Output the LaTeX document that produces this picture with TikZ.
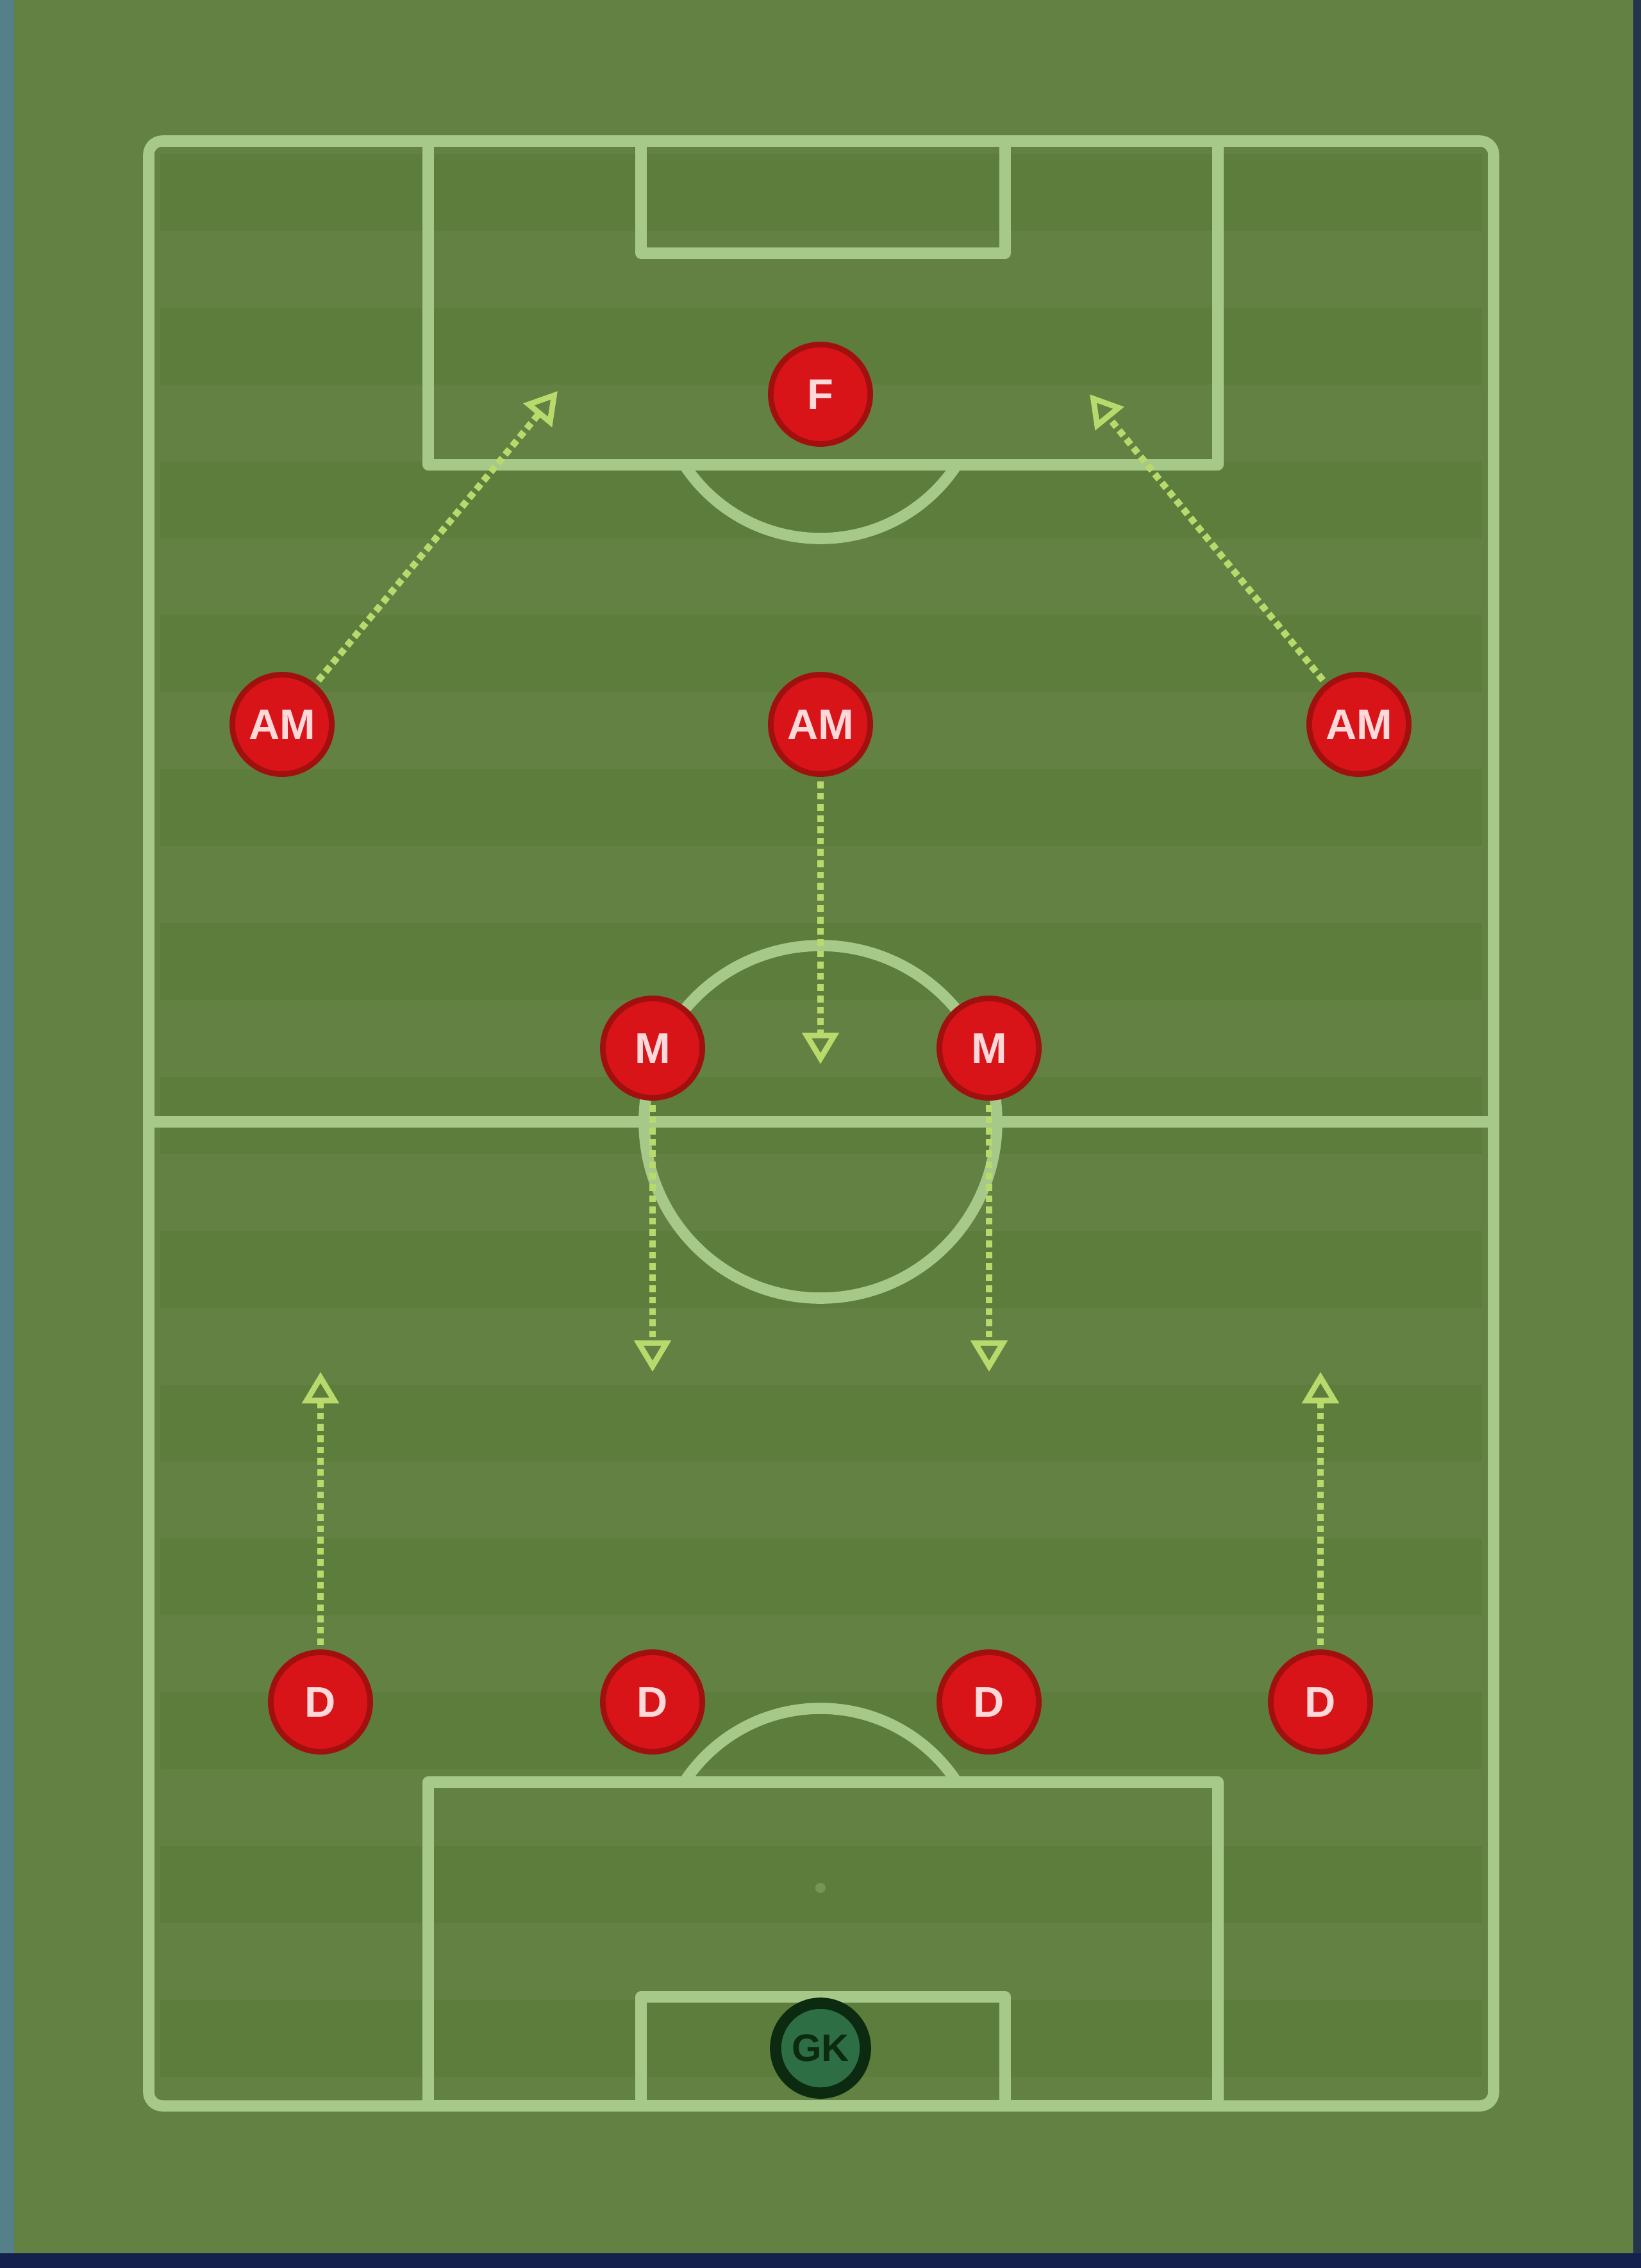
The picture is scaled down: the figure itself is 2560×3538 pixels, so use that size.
\documentclass[tikz,border=0pt]{standalone}
\usepackage{fontspec}
\setsansfont{Liberation Sans}
\usetikzlibrary{arrows.meta}
\definecolor{grass}{HTML}{628142}
\definecolor{grassdark}{HTML}{5D7D3D}
\definecolor{grasslight}{HTML}{668846}
\definecolor{pline}{HTML}{A6C889}
\definecolor{runc}{HTML}{B8DA6C}
\definecolor{shirt}{HTML}{D81418}
\definecolor{shirtrim}{HTML}{A0100F}
\definecolor{gkfill}{HTML}{2E6E45}
\definecolor{gkrim}{HTML}{0B2A10}
\definecolor{leftedge}{HTML}{55808A}
\definecolor{bottomedge}{HTML}{14214C}
\tikzset{
  pitchline/.style={draw=pline, line width=5pt, line join=round},
  player/.style={circle, fill=shirt, draw=shirtrim, line width=2.5pt, minimum size=1.55cm, inner sep=0pt, text=white!85!red, font=\sffamily\bfseries\fontsize{19}{19}\selectfont},
  keeper/.style={circle, fill=gkfill, draw=gkrim, line width=5pt, minimum size=1.4cm, inner sep=0pt, text=gkrim, font=\sffamily\bfseries\fontsize{17}{17}\selectfont},
  run/.style={draw=runc, line width=3pt, dotted, -{Triangle[open, length=14pt, width=16pt, line width=2.5pt]}, shorten <=2pt},
}
\begin{document}
\begin{tikzpicture}[x=0.01cm, y=-0.01cm]
% background
\fill[grass] (0,0) rectangle (2560,3538);
\useasboundingbox (0,0) rectangle (2560,3538);
\fill[leftedge] (0,0) rectangle (22,3538);
\fill[bottomedge] (0,3515) rectangle (2560,3538);
\fill[bottomedge!80!grass] (2548,0) rectangle (2560,3515);
% stripes
\foreach \i in {0,...,12} {
  \fill[grassdark] (250,{240+\i*240}) rectangle (2312,{240+\i*240+120});
}
% pitch markings
\draw[pitchline, rounded corners=6pt] (232,220) rectangle (2330,3285);
\draw[pitchline] (232,1750) -- (2330,1750);
\draw[pitchline] (1280,1750) circle [radius=275];
% top
\draw[pitchline] (668,220) rectangle (1900,725);
\draw[pitchline] (1000,220) rectangle (1568,395);
\begin{scope}
  \clip (0,727) rectangle (2560,1000);
  \draw[pitchline] (1280,586) circle [radius=254];
\end{scope}
% bottom
\draw[pitchline] (668,2780) rectangle (1900,3285);
\draw[pitchline] (1000,3115) rectangle (1568,3285);
\begin{scope}
  \clip (0,2500) rectangle (2560,2778);
  \draw[pitchline] (1280,2919) circle [radius=254];
\end{scope}
\fill[grasslight!90!white] (1280,2945) circle [radius=8];
% players
\node[player] (F) at (1280,615) {F};
\node[player] (AML) at (440,1130) {AM};
\node[player] (AMC) at (1280,1130) {AM};
\node[player] (AMR) at (2120,1130) {AM};
\node[player] (ML) at (1018,1635) {M};
\node[player] (MR) at (1543,1635) {M};
\node[player] (DL) at (500,2655) {D};
\node[player] (DCL) at (1018,2655) {D};
\node[player] (DCR) at (1543,2655) {D};
\node[player] (DR) at (2060,2655) {D};
\node[keeper] (GK) at (1280,3195) {GK};
% run targets
\coordinate (tAML) at (870,610);
\coordinate (tAMR) at (1700,615);
\coordinate (tAMC) at (1280,1660);
\coordinate (tML) at (1018,2140);
\coordinate (tMR) at (1543,2140);
\coordinate (tDL) at (500,2140);
\coordinate (tDR) at (2060,2140);
% runs
\draw[run] (AML) -- (tAML);
\draw[run] (AMR) -- (tAMR);
\draw[run] (AMC) -- (tAMC);
\draw[run] (ML) -- (tML);
\draw[run] (MR) -- (tMR);
\draw[run] (DL) -- (tDL);
\draw[run] (DR) -- (tDR);
\end{tikzpicture}
\end{document}
